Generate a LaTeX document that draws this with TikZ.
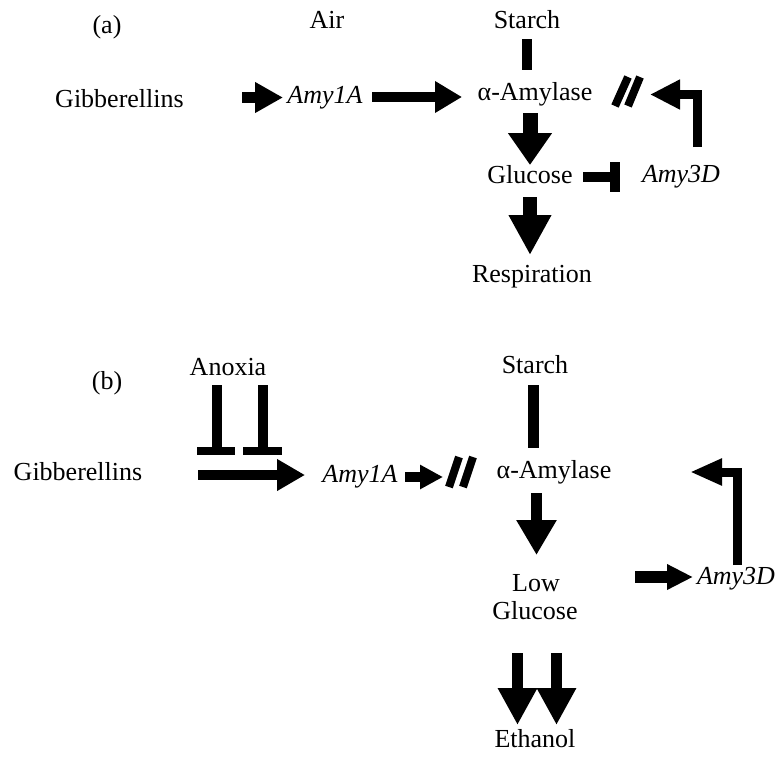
\documentclass[tikz,border=0pt]{standalone}
\usepackage{fontspec}
\setmainfont{Liberation Serif}
\usetikzlibrary{arrows.meta}
\begin{document}
\begin{tikzpicture}[x=1pt,y=-1pt,
  every node/.style={font=\fontsize{26}{36}\selectfont, inner sep=0pt, anchor=base},
  gene/.style={font=\fontsize{26}{36}\selectfont\itshape},
  arr/.style n args={3}{line width=#1, -{Triangle[length=#2, width=#3]}},
  bend/.style n args={3}{line width=#1, line join=miter, -{Triangle[length=#2, width=#3]}},
  bar/.style={line width=#1},
  slash/.style={line width=8pt}]
\useasboundingbox (0,0) rectangle (777,756);
% ---------- (a) ----------
\node (la) at (107,33) {(a)};
\node (air) at (327,28) {Air};
\node (starchA) at (527,28) {Starch};
\node (gibA) at (119.5,107) {Gibberellins};
\node[gene] (amy1A) at (325,103) {Amy1A};
\node (amylA) at (535,100) {α-Amylase};
\node (glucA) at (530,183) {Glucose};
\node (respA) at (532,282) {Respiration};
\node[gene] (amy3A) at (681,182) {Amy3D};
% coordinates
\coordinate (a1s) at (242,97.5); \coordinate (a1e) at (283,97.5);
\coordinate (a2s) at (372,97); \coordinate (a2e) at (462,97);
\coordinate (a3s) at (530,113); \coordinate (a3e) at (530,165);
\coordinate (a4s) at (530,197); \coordinate (a4e) at (530,255);
\coordinate (sbAs) at (527,39); \coordinate (sbAe) at (527,70);
\coordinate (inAs) at (583,177); \coordinate (inAe) at (615,177);
\coordinate (inAt) at (615,162); \coordinate (inAb) at (615,192);
\coordinate (fbAs) at (697,147); \coordinate (fbAc) at (697,94.5); \coordinate (fbAe) at (650,94.5);
\draw[bar=10pt] (sbAs) -- (sbAe);
\draw[arr={11pt}{28pt}{29pt}] (a1s) -- (a1e);
\draw[arr={10pt}{27pt}{30pt}] (a2s) -- (a2e);
\draw[arr={15pt}{32pt}{42pt}] (a3s) -- (a3e);
\draw[arr={14pt}{40pt}{40pt}] (a4s) -- (a4e);
\draw[bar=10pt] (inAs) -- (inAe);
\draw[bar=10pt] (inAt) -- (inAb);
\draw[slash] (615,106) -- (628,77);
\draw[slash] (628,106) -- (640,77);
\draw[bend={9pt}{30pt}{28pt}] (fbAs) -- (fbAc) -- (fbAe);
% ---------- (b) ----------
\node (lb) at (107,389) {(b)};
\node (anox) at (228,375) {Anoxia};
\node (starchB) at (535,373) {Starch};
\node (gibB) at (78,480) {Gibberellins};
\node[gene] (amy1B) at (360,482) {Amy1A};
\node (amylB) at (554,478) {α-Amylase};
\node (lowB) at (536,591) {Low};
\node (glucB) at (535,619) {Glucose};
\node[gene] (amy3B) at (736,584) {Amy3D};
\node (ethB) at (535,747) {Ethanol};
% anoxia inhibitions
\draw[bar=10pt] (217,385) -- (217,451);
\draw[bar=8pt] (197,451) -- (235,451);
\draw[bar=10pt] (263,385) -- (263,451);
\draw[bar=8pt] (243,451) -- (282,451);
\draw[arr={10pt}{28pt}{30pt}] (198,475) -- (305,475);
\draw[arr={10pt}{23pt}{23pt}] (405,477) -- (443,477);
\draw[slash] (449,487) -- (459,457);
\draw[slash] (463,487) -- (473,457);
\draw[bar=11pt] (533.5,385) -- (533.5,448);
\draw[arr={11pt}{35pt}{38pt}] (536.5,493) -- (536.5,555);
\draw[arr={11pt}{37pt}{37pt}] (517.5,653) -- (517.5,725);
\draw[arr={11pt}{37pt}{37pt}] (556.5,653) -- (556.5,725);
\draw[bend={9pt}{32pt}{25pt}] (737,565) -- (737,472) -- (690,472);
\draw[arr={12pt}{26pt}{24pt}] (635,577) -- (693,577);
\end{tikzpicture}
\end{document}
